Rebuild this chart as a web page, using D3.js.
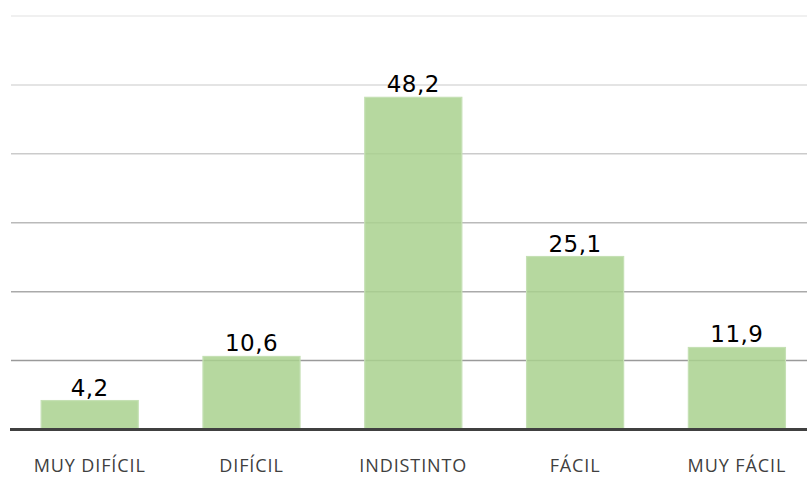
<!DOCTYPE html>
<html>
<head>
<meta charset="utf-8">
<script src="https://cdn.jsdelivr.net/npm/d3@7"></script>
<style>
  html, body { margin: 0; padding: 0; background: #fff; }
  svg { display: block; }
</style>
</head>
<body>
<svg id="chart" width="807" height="477"></svg>
<script>
const categories = ["MUY DIFÍCIL", "DIFÍCIL", "INDISTINTO", "FÁCIL", "MUY FÁCIL"];
const values = [4.2, 10.6, 48.2, 25.1, 11.9];
const gridTicks = [10, 20, 30, 40, 50, 60];
const fmt = v => v.toFixed(1).replace(".", ",");

const svg = d3.select("#chart");
const W = 807, H = 477;

const x = d3.scaleBand()
  .domain(categories)
  .range([8.8, 817.8])
  .paddingInner(0.4)
  .paddingOuter(0.2);

const y = d3.scaleLinear().domain([0, 60]).range([429.5, 16]);

const gridColor = d3.scaleLinear().domain([10, 60]).range(["#9a9a9a", "#ebebeb"]);

// gridlines
svg.append("g").selectAll("line")
  .data(gridTicks)
  .join("line")
  .attr("x1", 11).attr("x2", W)
  .attr("y1", d => y(d)).attr("y2", d => y(d))
  .attr("stroke", d => gridColor(d))
  .attr("stroke-width", 1.5);

// bars
svg.append("g").selectAll("rect")
  .data(values)
  .join("rect")
  .attr("x", (d, i) => x(categories[i]))
  .attr("width", x.bandwidth())
  .attr("y", d => y(d))
  .attr("height", d => y(0) - y(d))
  .attr("fill", "#a9d18e")
  .attr("fill-opacity", 0.85)
  .attr("stroke", "#c5e0b4")
  .attr("stroke-width", 1.2);

// baseline
svg.append("line")
  .attr("x1", 10).attr("x2", W)
  .attr("y1", y(0)).attr("y2", y(0))
  .attr("stroke", "#404040")
  .attr("stroke-width", 3);

// value labels
svg.append("g").selectAll("text")
  .data(values)
  .join("text")
  .attr("x", (d, i) => x(categories[i]) + x.bandwidth() / 2)
  .attr("y", d => y(d) - 5)
  .attr("text-anchor", "middle")
  .attr("font-family", "DejaVu Sans, Verdana, sans-serif")
  .attr("font-size", 23)
  .attr("letter-spacing", 0.5)
  .attr("fill", "#000")
  .text(d => fmt(d));

// category labels
svg.append("g").selectAll("text")
  .data(categories)
  .join("text")
  .attr("x", d => x(d) + x.bandwidth() / 2)
  .attr("y", 472)
  .attr("text-anchor", "middle")
  .attr("font-family", "Open Sans, sans-serif")
  .attr("font-size", 18)
  .attr("letter-spacing", 0.9)
  .attr("fill", "#404040")
  .text(d => d);
</script>
</body>
</html>
